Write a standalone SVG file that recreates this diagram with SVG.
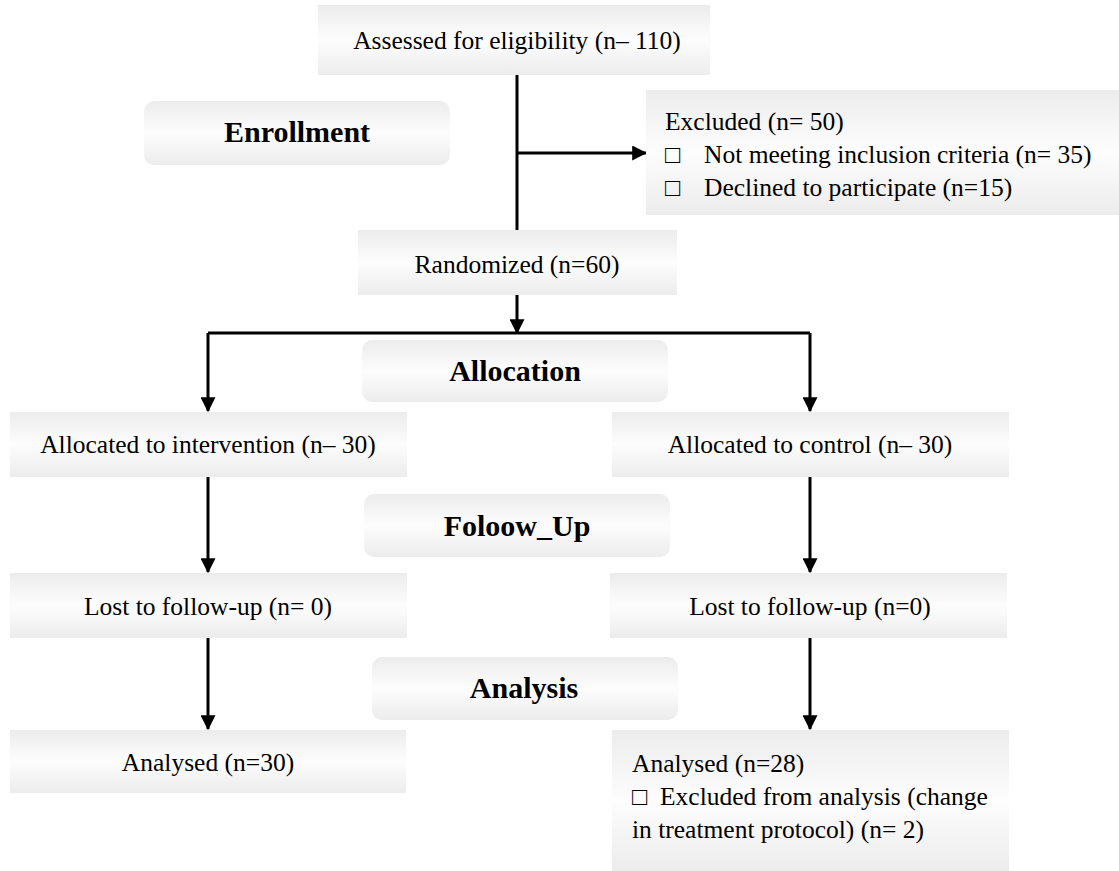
<svg xmlns="http://www.w3.org/2000/svg" width="1119" height="871" viewBox="0 0 1119 871">
<style>
.box{fill:url(#g);}
.t{font-family:"Liberation Serif","Times New Roman",serif;font-size:25.5px;fill:#000;}
.c{text-anchor:middle;}
.h{font-family:"Liberation Serif","Times New Roman",serif;font-size:30px;font-weight:bold;text-anchor:middle;fill:#000;}
.ln{stroke:#000;stroke-width:3;fill:none;}
.ar{stroke:#000;stroke-width:3;fill:none;marker-end:url(#ah);}
</style>
<defs>
<linearGradient id="g" x1="0" y1="0" x2="0" y2="1">
<stop offset="0" stop-color="#ececec"/>
<stop offset="0.5" stop-color="#fdfdfd"/>
<stop offset="1" stop-color="#ececec"/>
</linearGradient>
<marker id="ah" markerWidth="5" markerHeight="5" refX="4.6" refY="2.5" orient="auto" markerUnits="strokeWidth">
<path d="M0,0 L5,2.5 L0,5 Z" fill="#000"/>
</marker>
</defs>
<rect width="1119" height="871" fill="#fff"/>
<g id="connectors">
<line class="ln" x1="517" y1="75" x2="517" y2="230"/>
<line class="ar" x1="517" y1="153" x2="646" y2="153"/>
<line class="ar" x1="517" y1="295" x2="517" y2="333"/>
<polyline class="ar" points="208,333 208,411"/>
<line class="ln" x1="208" y1="333" x2="810" y2="333"/>
<polyline class="ar" points="810,333 810,411"/>
<line class="ar" x1="208" y1="477" x2="208" y2="572"/>
<line class="ar" x1="810" y1="477" x2="810" y2="572"/>
<line class="ar" x1="208" y1="638" x2="208" y2="729"/>
<line class="ar" x1="810" y1="638" x2="810" y2="729"/>
</g>
<g id="assessed"><rect class="box" x="318" y="5" width="392" height="70"/><text class="t c" x="517" y="49">Assessed for eligibility (n– 110)</text></g>
<g id="enrollment"><rect class="box" x="144" y="101" width="306" height="64" rx="10"/><text class="h" x="297" y="142">Enrollment</text></g>
<g id="excluded"><rect class="box" x="646" y="90" width="473" height="125"/>
<text class="t" x="665" y="130">Excluded (n= 50)</text>
<text class="t" x="665" y="163">□</text><text class="t" x="704" y="163">Not meeting inclusion criteria (n= 35)</text>
<text class="t" x="665" y="196">□</text><text class="t" x="704" y="196">Declined to participate (n=15)</text></g>
<g id="randomized"><rect class="box" x="358" y="230" width="319" height="65"/><text class="t c" x="517" y="273">Randomized (n=60)</text></g>
<g id="allocation"><rect class="box" x="362" y="340" width="306" height="62" rx="10"/><text class="h" x="515" y="381">Allocation</text></g>
<g id="alloc-int"><rect class="box" x="10" y="412" width="397" height="65"/><text class="t c" x="208" y="453">Allocated to intervention (n– 30)</text></g>
<g id="alloc-ctl"><rect class="box" x="612" y="412" width="397" height="65"/><text class="t c" x="810" y="453">Allocated to control (n– 30)</text></g>
<g id="followup"><rect class="box" x="364" y="494" width="306" height="63" rx="10"/><text class="h" x="517" y="536">Foloow_Up</text></g>
<g id="lost-int"><rect class="box" x="10" y="573" width="397" height="65"/><text class="t c" x="208" y="615">Lost to follow-up (n= 0)</text></g>
<g id="lost-ctl"><rect class="box" x="610" y="573" width="397" height="65"/><text class="t c" x="810" y="615">Lost to follow-up (n=0)</text></g>
<g id="analysis"><rect class="box" x="372" y="657" width="306" height="63" rx="10"/><text class="h" x="524" y="698">Analysis</text></g>
<g id="analysed-int"><rect class="box" x="10" y="730" width="396" height="63"/><text class="t c" x="208" y="771">Analysed (n=30)</text></g>
<g id="analysed-ctl"><rect class="box" x="612" y="730" width="397" height="141"/>
<text class="t" x="632" y="772">Analysed (n=28)</text>
<text class="t" x="632" y="805">□</text><text class="t" x="660" y="805">Excluded from analysis (change</text>
<text class="t" x="632" y="838">in treatment protocol) (n= 2)</text></g>
</svg>
